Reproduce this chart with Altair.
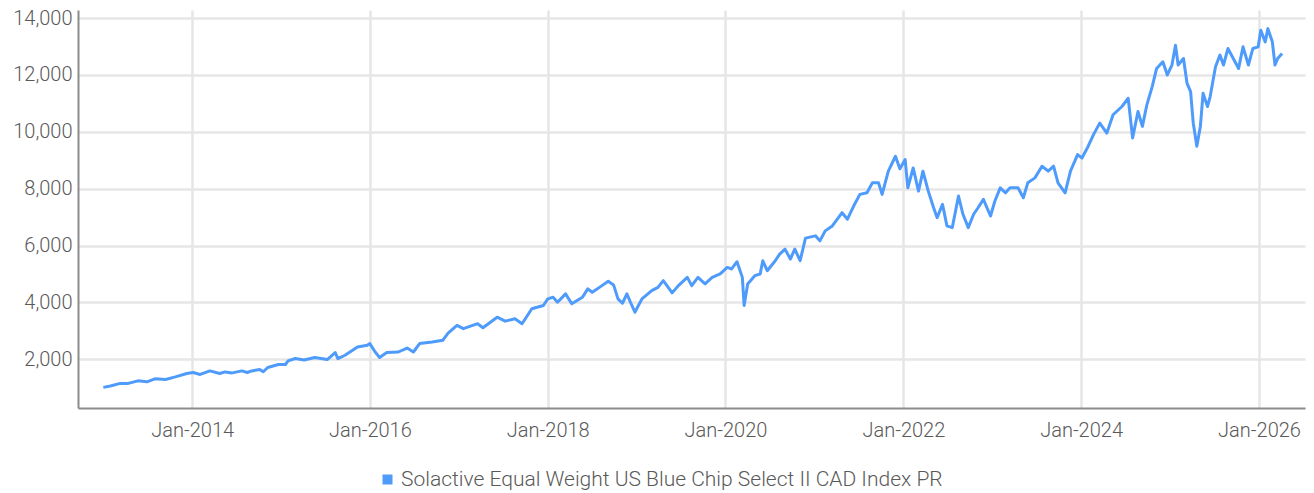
import altair as alt
import pandas as pd
import numpy as np

SERIES = "Solactive Equal Weight US Blue Chip Select II CAD Index PR"

# decimal-year positions
years = [
    2013.00, 2013.08, 2013.19, 2013.28, 2013.39, 2013.49, 2013.58, 2013.70, 2013.81, 2013.94,
    2014.01, 2014.09, 2014.20, 2014.31, 2014.37, 2014.45, 2014.56, 2014.62, 2014.67, 2014.76,
    2014.80, 2014.85, 2014.97, 2015.05, 2015.08, 2015.16, 2015.26, 2015.38, 2015.52, 2015.61,
    2015.64, 2015.72, 2015.86, 2015.97, 2016.00, 2016.06, 2016.11, 2016.19, 2016.32, 2016.42,
    2016.49, 2016.56, 2016.70, 2016.82, 2016.88, 2016.98, 2017.05, 2017.21, 2017.27, 2017.43,
    2017.52, 2017.63, 2017.71, 2017.82, 2017.95, 2018.00, 2018.06, 2018.11, 2018.20, 2018.27,
    2018.39, 2018.45, 2018.50, 2018.61, 2018.68, 2018.74, 2018.79, 2018.84, 2018.89, 2018.93,
    2018.98, 2019.06, 2019.17, 2019.24, 2019.30, 2019.40, 2019.47, 2019.57, 2019.62, 2019.69,
    2019.77, 2019.85, 2019.94, 2020.02, 2020.07, 2020.13, 2020.19, 2020.21, 2020.25, 2020.33,
    2020.39, 2020.42, 2020.47, 2020.56, 2020.61, 2020.67, 2020.73, 2020.78, 2020.84, 2020.90,
    2021.01, 2021.06, 2021.12, 2021.20, 2021.31, 2021.37, 2021.44, 2021.51, 2021.59, 2021.65,
    2021.72, 2021.76, 2021.83, 2021.91, 2021.96, 2022.02, 2022.05, 2022.11, 2022.17, 2022.22,
    2022.28, 2022.34, 2022.38, 2022.44, 2022.49, 2022.55, 2022.62, 2022.67, 2022.73, 2022.79,
    2022.84, 2022.90, 2022.98, 2023.03, 2023.09, 2023.15, 2023.20, 2023.29, 2023.35, 2023.40,
    2023.48, 2023.56, 2023.63, 2023.69, 2023.74, 2023.82, 2023.88, 2023.96, 2024.01, 2024.07,
    2024.14, 2024.21, 2024.29, 2024.36, 2024.46, 2024.53, 2024.58, 2024.64, 2024.69, 2024.74,
    2024.80, 2024.85, 2024.92, 2024.97, 2025.02, 2025.06, 2025.09, 2025.15, 2025.19, 2025.23,
    2025.26, 2025.30, 2025.34, 2025.37, 2025.42, 2025.45, 2025.51, 2025.56, 2025.60, 2025.65,
    2025.71, 2025.77, 2025.82, 2025.88, 2025.93, 2025.99, 2026.02, 2026.07, 2026.10, 2026.15,
    2026.18, 2026.21, 2026.26,
]

values = [
    1010, 1060, 1150, 1150, 1240, 1205, 1310, 1290, 1380, 1500,
    1535, 1465, 1590, 1500, 1555, 1520, 1590, 1535, 1590, 1640,
    1560, 1710, 1815, 1815, 1940, 2025, 1975, 2060, 1990, 2235,
    2020, 2140, 2430, 2490, 2550, 2255, 2060, 2235, 2255, 2395,
    2255, 2550, 2605, 2665, 2920, 3190, 3075, 3250, 3110, 3480,
    3340, 3425, 3250, 3775, 3890, 4125, 4180, 4005, 4300, 3950,
    4180, 4475, 4355, 4590, 4740, 4615, 4125, 3970, 4300, 4005,
    3655, 4125, 4415, 4530, 4765, 4335, 4590, 4880, 4590, 4880,
    4650, 4880, 5000, 5230, 5175, 5430, 4880, 3890, 4650, 4940,
    5000, 5465, 5115, 5465, 5700, 5875, 5525, 5875, 5465, 6260,
    6340, 6165, 6515, 6690, 7155, 6925, 7390, 7800, 7855, 8205,
    8205, 7800, 8615, 9140, 8700, 9025, 8030, 8730, 7915, 8615,
    7915, 7330, 6980, 7450, 6690, 6630, 7740, 7100, 6630, 7100,
    7330, 7625, 7040, 7565, 8030, 7855, 8030, 8030, 7680, 8205,
    8380, 8790, 8615, 8790, 8205, 7855, 8615, 9200, 9080, 9430,
    9900, 10305, 9955, 10600, 10890, 11180, 9780, 10715, 10190, 10950,
    11590, 12230, 12465, 12000, 12350, 13045, 12350, 12580, 11705, 11415,
    10305, 9490, 10190, 11355, 10890, 11240, 12290, 12700, 12350, 12930,
    12580, 12230, 12990, 12350, 12930, 12990, 13570, 13165, 13630, 13165,
    12350, 12580, 12755,
]

y_ticks = [2000, 4000, 6000, 8000, 10000, 12000, 14000]
x_tick_years = [2014, 2016, 2018, 2020, 2022, 2024, 2026]
x_range = ["2012-09-19T00:00:00", "2026-07-09T00:00:00"]
y_range = [285, 14285]


def to_date(y):
    yr = int(np.floor(y))
    frac = y - yr
    return pd.Timestamp(yr, 1, 1) + pd.Timedelta(days=frac * 365.25)


df = pd.DataFrame({
    "date": [to_date(y) for y in years],
    "value": values,
    "series": SERIES,
})

FONT = "Roboto"
TXT = "#595959"
BLUE = "#4e9bfb"

chart = alt.Chart(df).mark_line(strokeWidth=3, color=BLUE, strokeJoin="round").encode(
    x=alt.X(
        "date:T",
        title=None,
        scale=alt.Scale(domain=x_range, nice=False),
        axis=alt.Axis(
            values=[alt.DateTime(year=y, month=1, date=1) for y in x_tick_years],
            format="%b-%Y",
            grid=True,
            ticks=False,
            labelPadding=12,
        ),
    ),
    y=alt.Y(
        "value:Q",
        title=None,
        scale=alt.Scale(domain=y_range, nice=False, zero=False),
        axis=alt.Axis(values=y_ticks, format=",.0f", grid=True, ticks=False, labelPadding=6),
    ),
    color=alt.Color(
        "series:N",
        scale=alt.Scale(range=[BLUE]),
        legend=alt.Legend(
            title=None,
            orient="none",
            legendX=299,
            legendY=459,
            symbolType="square",
            symbolSize=100,
            symbolFillColor=BLUE,
            symbolStrokeWidth=0,
            labelFontSize=21,
            labelFont=FONT,
            labelFontWeight=300,
            labelColor=TXT,
            labelOffset=3,
            labelLimit=0,
        ),
    ),
).properties(
    width=1227,
    height=398,
    autosize=alt.AutoSizeParams(type="none"),
    padding={"left": 70, "top": 2, "right": 1, "bottom": 85},
).configure_view(
    stroke=None
).configure_axis(
    labelFont=FONT,
    labelFontSize=20,
    labelFontWeight=300,
    labelColor=TXT,
    domainColor="#8c8c8c",
    domainWidth=2,
    gridColor="#e6e6e6",
    gridWidth=2.5,
)

chart.save("out.html", embed_options={"renderer": "svg", "actions": False})
